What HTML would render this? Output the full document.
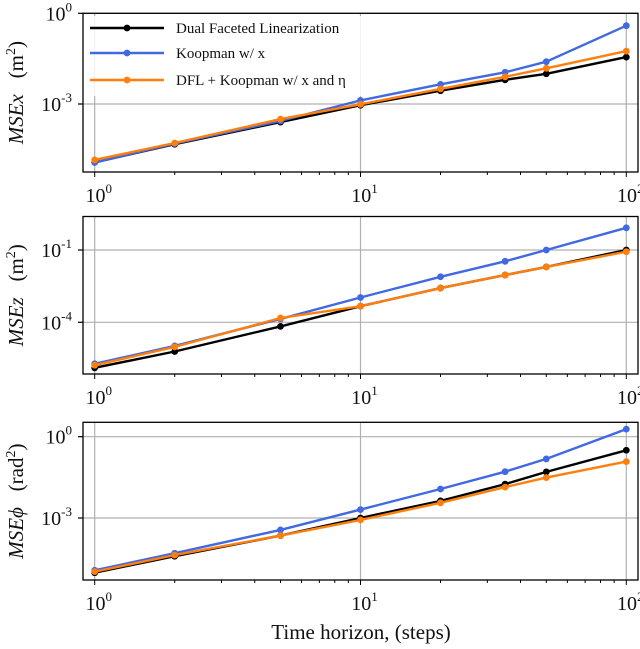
<!DOCTYPE html>
<html><head><meta charset="utf-8"><style>
body{margin:0;background:#fff}
svg text{font-family:"Liberation Serif",serif;fill:#111}
</style></head><body>
<svg id="chart" width="640" height="644" xmlns="http://www.w3.org/2000/svg"></svg>
<script>
const xSteps=[1,2,5,10,20,35,50,100];
const seriesNames=["Dual Faceted Linearization","Koopman w/ x","DFL + Koopman w/ x and \u03b7"];
const seriesColors=["#000000","#4169e1","#ff7f0e"];
// log10 values, per panel: [black, blue, orange]
const xBlack=[-4.93,-4.33,-3.6,-3.04,-2.56,-2.2,-2.0,-1.45];
const xBlue=[-4.93,-4.31,-3.56,-2.88,-2.35,-1.95,-1.6,-0.41];
const xOrange=[-4.85,-4.29,-3.5,-3.01,-2.5,-2.1,-1.82,-1.25];
const zBlack=[-5.89,-5.21,-4.17,-3.33,-2.58,-2.04,-1.7,-1.0];
const zBlue=[-5.72,-4.98,-3.86,-2.97,-2.11,-1.47,-1.0,-0.08];
const zOrange=[-5.78,-5.02,-3.82,-3.33,-2.58,-2.04,-1.7,-1.07];
const pBlack=[-5.02,-4.41,-3.65,-3.0,-2.37,-1.75,-1.30,-0.5];
const pBlue=[-4.93,-4.30,-3.44,-2.69,-1.93,-1.29,-0.82,0.28];
const pOrange=[-4.98,-4.37,-3.65,-3.07,-2.44,-1.86,-1.51,-0.92];
const yTickExps=[[0,-3],[-1,-4],[0,-3]];
const xTickExps=[0,1,2];

const NS="http://www.w3.org/2000/svg";
const svg=document.getElementById('chart');
function mk(tag,attrs,parent){const e=document.createElementNS(NS,tag);for(const k in attrs)e.setAttribute(k,attrs[k]);(parent||svg).appendChild(e);return e;}
const L=83,R=638,X0=94.7,X1=626.3;
function xs(v){return X0+(Math.log10(v))*(X1-X0)/2;}
const panels=[
 {top:13.3,bot:172,yA:0,pA:13.3,yB:-3,pB:104,data:[xBlack,xBlue,xOrange],name:"mse-x",lab:["MSE","x","(m","2",")"]},
 {top:216.5,bot:374,yA:-1,pA:250,yB:-4,pB:322.3,data:[zBlack,zBlue,zOrange],name:"mse-z",lab:["MSE","z","(m","2",")"]},
 {top:422.3,bot:580,yA:0,pA:436.7,yB:-3,pB:518,data:[pBlack,pBlue,pOrange],name:"mse-phi",lab:["MSE","\u03d5","(rad","2",")"]}
];
panels.forEach((p,pi)=>{
 const g=mk('g',{});
 
 
 const ys=v=>p.pA+(v-p.yA)*(p.pB-p.pA)/(p.yB-p.yA);
 // grid
 yTickExps[pi].forEach(e=>{const l=mk('line',{x1:L,x2:R,y1:ys(e),y2:ys(e),stroke:'#b0b0b0','stroke-width':1.2},g);
  });
 xTickExps.forEach(e=>{const l=mk('line',{x1:xs(Math.pow(10,e)),x2:xs(Math.pow(10,e)),y1:p.top,y2:p.bot,stroke:'#b0b0b0','stroke-width':1.2},g);
  });
 // series
 [0,1,2].forEach(si=>{
  const d=p.data[si];
  const pts=xSteps.map((x,i)=>xs(x).toFixed(1)+','+ys(d[i]).toFixed(1)).join(' ');
  const pl=mk('polyline',{points:pts,fill:'none',stroke:seriesColors[si],'stroke-width':2.4,'stroke-linejoin':'round'},g);
  
  
  xSteps.forEach((x,i)=>{const c=mk('circle',{cx:xs(x),cy:ys(d[i]),r:3.4,fill:seriesColors[si]},g);
   });
 });
 // frame
 const fr=mk('rect',{x:L,y:p.top,width:R-L,height:p.bot-p.top,fill:'none',stroke:'#000','stroke-width':1.3},g);
 
 // y ticks & labels
 yTickExps[pi].forEach(e=>{
  mk('line',{x1:L-5,x2:L,y1:ys(e),y2:ys(e),stroke:'#000','stroke-width':1.2},g);
  const t=mk('text',{x:72,y:ys(e)+7,'text-anchor':'end','font-size':20},g);
  
  t.innerHTML='10<tspan dy="-9" font-size="13">'+e+'</tspan>';
 });
 // x ticks
 for(let dec=0;dec<2;dec++)for(let k=1;k<10;k++){
  const v=k*Math.pow(10,dec);const len=k==1?5:3;
  mk('line',{x1:xs(v),x2:xs(v),y1:p.bot,y2:p.bot+len,stroke:'#000','stroke-width':1},g);
 }
 mk('line',{x1:xs(100),x2:xs(100),y1:p.bot,y2:p.bot+5,stroke:'#000','stroke-width':1},g);
 xTickExps.forEach(e=>{
  const t=mk('text',{x:xs(Math.pow(10,e))+4,y:p.bot+30,'text-anchor':'middle','font-size':20},g);
  
  t.innerHTML='10<tspan dy="-9" font-size="13">'+e+'</tspan>';
 });
 // y label
 const cy=(p.top+p.bot)/2;
 const t=mk('text',{x:0,y:0,'text-anchor':'middle','font-size':21,transform:'translate(23,'+cy+') rotate(-90)'},g);
 
 t.innerHTML='<tspan font-style="italic">'+p.lab[0]+p.lab[1]+'</tspan>\u2002 '+p.lab[2]+'<tspan dy="-8" font-size="14">'+p.lab[3]+'</tspan><tspan dy="8">'+p.lab[4]+'</tspan>';
});
// legend
const lg=mk('g',{});


mk('rect',{x:86,y:16,width:290,height:80,fill:'#fff','fill-opacity':0.85},lg);
[28,53,80].forEach((y,i)=>{
 const e=mk('g',{},lg);
 
 
 mk('line',{x1:90,x2:164,y1:y,y2:y,stroke:seriesColors[i],'stroke-width':2.4},e);
 mk('circle',{cx:127,cy:y,r:3.4,fill:seriesColors[i]},e);
 const t=mk('text',{x:176,y:y+5,'font-size':15},e);
 t.textContent=seriesNames[i];
});
const xt=mk('text',{x:361,y:639,'text-anchor':'middle','font-size':21});


xt.textContent='Time horizon, (steps)';
</script>
</body></html>
